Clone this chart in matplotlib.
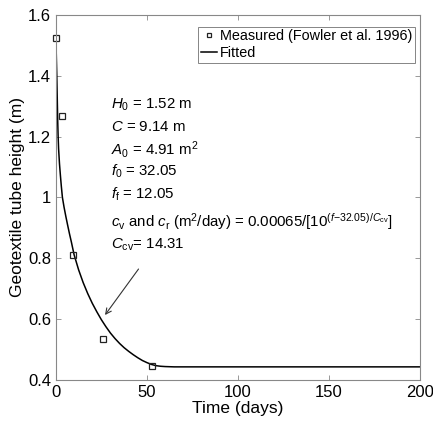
import matplotlib
matplotlib.use("Agg")
import matplotlib.pyplot as plt

plt.rcParams['font.family'] = ['Liberation Sans', 'DejaVu Sans']
plt.rcParams['mathtext.fontset'] = 'custom'
plt.rcParams['mathtext.rm'] = 'Liberation Sans'
plt.rcParams['mathtext.it'] = 'Liberation Sans:italic'
plt.rcParams['mathtext.bf'] = 'Liberation Sans:bold'

# measured points (Fowler et al. 1996)
measured_t = [0, 3.3, 9.6, 25.8, 52.6]
measured_h = [1.524, 1.268, 0.812, 0.534, 0.445]

# fitted curve
fitted_t = [0, 0.25, 0.5, 0.75, 1, 1.25, 1.5, 2, 2.5, 3, 3.6, 4.5, 5.5, 6.5,
            7.5, 8.5, 10, 12.5, 15, 17.5, 20, 22.5, 25, 27.5, 30, 32.5, 35,
            37.5, 40, 42.5, 45, 47.5, 50, 52.5, 55, 57.5, 60, 65, 70, 80, 100,
            150, 200]
fitted_h = [1.52, 1.465, 1.405, 1.33, 1.255, 1.2, 1.16, 1.11, 1.072, 1.037,
            1.0, 0.968, 0.937, 0.908, 0.88, 0.854, 0.812, 0.762, 0.72, 0.684,
            0.652, 0.624, 0.598, 0.575, 0.554, 0.536, 0.52, 0.506, 0.494,
            0.483, 0.473, 0.464, 0.457, 0.451, 0.447, 0.445, 0.444, 0.443,
            0.443, 0.443, 0.443, 0.443, 0.443]

x_ticks = [0, 50, 100, 150, 200]
y_ticks = [0.4, 0.6, 0.8, 1.0, 1.2, 1.4, 1.6]
y_tick_labels = ['0.4', '0.6', '0.8', '1', '1.2', '1.4', '1.6']

param_lines = [
    r'$H_{\mathrm{0}}$ = 1.52 m',
    r'$C$ = 9.14 m',
    r'$A_{\mathrm{0}}$ = 4.91 m$^{\mathrm{2}}$',
    r'$f_{\mathrm{0}}$ = 32.05',
    r'$f_{\mathrm{f}}$ = 12.05',
    r'$c_{\mathrm{v}}$ and $c_{\mathrm{r}}$ (m$^{\mathrm{2}}$/day) = 0.00065/[10$^{(f\mathrm{-32.05})/C_{\mathrm{cv}}}$]',
    r'$C_{\mathrm{cv}}$= 14.31',
]
param_y = [1.304, 1.233, 1.156, 1.085, 1.011, 0.92, 0.843]

fig = plt.figure(figsize=(4.33, 4.25), dpi=100)
ax = fig.add_axes([0.129, 0.106, 0.841, 0.859])

ax.plot(fitted_t, fitted_h, '-', color='black', linewidth=1.1, label='Fitted')
ax.plot(measured_t, measured_h, 's', markersize=4.2, markerfacecolor='none',
        markeredgecolor='#222222', markeredgewidth=0.9, clip_on=False,
        label='Measured (Fowler et al. 1996)')

for txt, y in zip(param_lines, param_y):
    ax.text(30.5, y, txt, fontsize=10.8, va='center', ha='left')

ax.annotate('', xy=(26.1, 0.606), xytext=(46.3, 0.772),
            arrowprops=dict(arrowstyle='->', color='#333333', lw=0.8))

ax.set_xlim(0, 200)
ax.set_ylim(0.4, 1.6)
ax.set_xticks(x_ticks)
ax.set_yticks(y_ticks)
ax.set_yticklabels(y_tick_labels)
ax.tick_params(direction='in', top=True, right=True, labelsize=12,
               length=3.5, color='#888888', width=0.6)
for sp in ax.spines.values():
    sp.set_color('#888888')
    sp.set_linewidth(0.8)

ax.set_xlabel('Time (days)', fontsize=12.5, labelpad=1)
ax.set_ylabel('Geotextile tube height (m)', fontsize=12.5, labelpad=2)

handles, labels = ax.get_legend_handles_labels()
leg = ax.legend(handles[::-1], labels[::-1], loc='upper right',
                bbox_to_anchor=(0.987, 0.968), fontsize=10.4,
                frameon=True, fancybox=False, edgecolor='#666666',
                handlelength=1.1, handletextpad=0.2, borderpad=0.2,
                labelspacing=0.15, borderaxespad=0, markerscale=0.8)
leg.get_frame().set_linewidth(0.7)

fig.savefig('out.png', dpi=100)
